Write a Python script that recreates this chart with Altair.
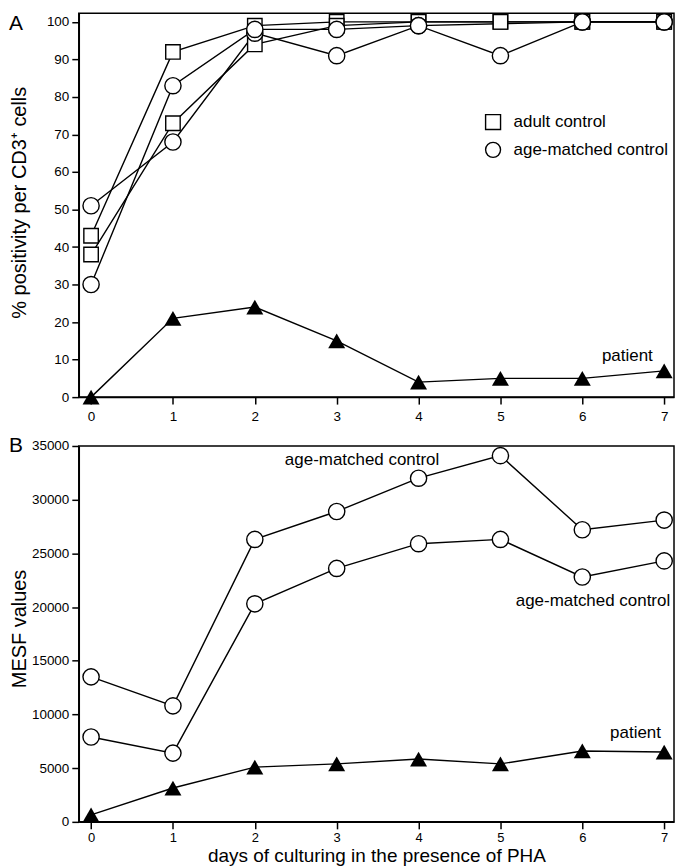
import altair as alt
import pandas as pd

days = [0, 1, 2, 3, 4, 5, 6, 7]

# Panel A: % positivity per CD3+ cells
a_adult_1 = [43, 92, 99, 100, 100, 100, 100, 100]
a_adult_2 = [38, 73, 94, 99, 100, 100, 100, 100]
a_age_1 = [51, 68, 97, 91, 99, 91, 100, 100]
a_age_2 = [30, 83, 98, 98, 99, None, 100, 100]
a_patient = [0, 21, 24, 15, 4, 5, 5, 7]

# Panel B: MESF values
b_age_1 = [13500, 10800, 26300, 28900, 32000, 34100, 27200, 28100]
b_age_2 = [7900, 6400, 20300, 23600, 25900, 26300, 22800, 24300]
b_patient = [650, 3150, 5100, 5400, 5850, 5400, 6600, 6500]

legend_labels = ["adult control", "age-matched control"]
# legend anchor (in data units of panel A)
legend_day = 4.91
legend_text_day = 5.16
legend_vals = [73.3, 65.9]

a_ticks = [0, 10, 20, 30, 40, 50, 60, 70, 80, 90, 100]
b_ticks = [0, 5000, 10000, 15000, 20000, 25000, 30000, 35000]

a_note_text = ["patient"]
a_note_day = [6.55]
a_note_val = [11]

b_note_text = ["age-matched control", "age-matched control", "patient"]
b_note_day = [3.31, 6.13, 6.65]
b_note_val = [33650, 20560, 8310]

FONT = "Liberation Sans"


def long(series, groups):
    rows = []
    for name, vals in series.items():
        for d, v in zip(days, vals):
            if v is not None:
                rows.append({"series": name, "group": groups[name], "day": d, "value": v})
    return pd.DataFrame(rows)


a_series = {"adult1": a_adult_1, "adult2": a_adult_2, "age1": a_age_1, "age2": a_age_2, "patient": a_patient}
a_groups = {"adult1": "adult control", "adult2": "adult control", "age1": "age-matched control",
            "age2": "age-matched control", "patient": "patient"}
df_a = long(a_series, a_groups)
df_a_adult = df_a[df_a["group"] == "adult control"]
df_a_age = df_a[df_a["group"] == "age-matched control"]
df_a_pat = df_a[df_a["group"] == "patient"]

b_series = {"age1": b_age_1, "age2": b_age_2, "patient": b_patient}
b_groups = {"age1": "age-matched control", "age2": "age-matched control", "patient": "patient"}
df_b = long(b_series, b_groups)
df_b_ctrl = df_b[df_b["group"] != "patient"]
df_b_pat = df_b[df_b["group"] == "patient"]

df_a_notes = pd.DataFrame({"text": a_note_text, "day": a_note_day, "value": a_note_val})
df_b_notes = pd.DataFrame({"text": b_note_text, "day": b_note_day, "value": b_note_val})
df_legend = pd.DataFrame({"group": legend_labels, "value": legend_vals,
                          "day": [legend_day] * 2, "tday": [legend_text_day] * 2})

xscale = alt.Scale(domain=[-0.15, 7.12], nice=False, zero=False)

W = 597
HA = 385
HB = 377
LINE_W = 1.4
MARK_W = 1.4

# ---------------- Panel A ----------------
xaxis_a = alt.Axis(values=days, format="d", title=None, labelPadding=5)
x_a = alt.X("day:Q", scale=xscale, axis=xaxis_a)
y_a = alt.Y("value:Q", scale=alt.Scale(domain=[0, 102.3], nice=False, zero=False),
            axis=alt.Axis(values=a_ticks, format="d", title="% positivity per CD3⁺ cells",
                          titleX=-53, titleY=189.5, titleBaseline="alphabetic"))

shape_a = alt.Shape("group:N", scale=alt.Scale(domain=legend_labels, range=["square", "circle"]),
                    legend=None)

lines_a = alt.Chart(df_a).mark_line(color="black", strokeWidth=LINE_W).encode(
    x=x_a, y=y_a, detail="series:N", order="day:Q")

sq_a = alt.Chart(df_a_adult).mark_point(
    fill="white", stroke="black", strokeWidth=MARK_W, opacity=1, fillOpacity=1, size=210
).encode(x=x_a, y=y_a, shape=shape_a)

ci_a = alt.Chart(df_a_age).mark_point(
    fill="white", stroke="black", strokeWidth=MARK_W, opacity=1, fillOpacity=1, size=265
).encode(x=x_a, y=y_a, shape=shape_a)

pat_a = alt.Chart(df_a_pat).mark_point(
    shape="triangle-up", filled=True, color="black", size=290, opacity=1
).encode(x=x_a, y=y_a)

leg_sym = alt.Chart(df_legend).mark_point(
    fill="white", stroke="black", strokeWidth=MARK_W, opacity=1, fillOpacity=1, size=225
).encode(x=x_a, y=y_a, shape=shape_a)

leg_txt = alt.Chart(df_legend).mark_text(
    font=FONT, fontSize=17, color="black", align="left", baseline="middle"
).encode(x=alt.X("tday:Q", scale=xscale, axis=xaxis_a), y=y_a, text="group:N")

notes_a = alt.Chart(df_a_notes).mark_text(
    font=FONT, fontSize=17, color="black", align="center", baseline="middle"
).encode(x=x_a, y=y_a, text="text:N")

letter_a = alt.Chart(pd.DataFrame({"t": ["A"]})).mark_text(
    font=FONT, fontSize=21, color="black", align="left", baseline="top"
).encode(x=alt.value(-70), y=alt.value(0), text="t:N")

chart_a = alt.layer(lines_a, sq_a, ci_a, pat_a, leg_sym, leg_txt, notes_a, letter_a).properties(
    width=W, height=HA)

# ---------------- Panel B ----------------
x_b = alt.X("day:Q", scale=xscale,
            axis=alt.Axis(values=days, format="d", title="days of culturing in the presence of PHA",
                          labelPadding=3, labelFontSize=13, titleY=40,
                          titleBaseline="alphabetic", titleFontSize=19))
y_b = alt.Y("value:Q", scale=alt.Scale(domain=[0, 35000], nice=False, zero=False),
            axis=alt.Axis(values=b_ticks, format="d", title="MESF values",
                          titleX=-53, titleY=183, titleBaseline="alphabetic"))

lines_b = alt.Chart(df_b).mark_line(color="black", strokeWidth=LINE_W).encode(
    x=x_b, y=y_b, detail="series:N", order="day:Q")

pts_b = alt.Chart(df_b_ctrl).mark_point(
    shape="circle", fill="white", stroke="black", strokeWidth=MARK_W, size=265, opacity=1, fillOpacity=1
).encode(x=x_b, y=y_b)

pat_b = alt.Chart(df_b_pat).mark_point(
    shape="triangle-up", filled=True, color="black", size=290, opacity=1
).encode(x=x_b, y=y_b)

notes_b = alt.Chart(df_b_notes).mark_text(
    font=FONT, fontSize=17, color="black", align="center", baseline="middle"
).encode(x=x_b, y=y_b, text="text:N")

letter_b = alt.Chart(pd.DataFrame({"t": ["B"]})).mark_text(
    font=FONT, fontSize=21, color="black", align="left", baseline="middle"
).encode(x=alt.value(-70), y=alt.value(0.5), text="t:N")

chart_b = alt.layer(lines_b, pts_b, pat_b, notes_b, letter_b).properties(width=W, height=HB)

chart = alt.vconcat(chart_a, chart_b, spacing=49, bounds="flush").properties(
    padding={"left": 0, "top": 0, "right": 1, "bottom": 0}
).configure(font=FONT).configure_view(
    stroke="black", strokeWidth=1.5
).configure_axis(
    grid=False, domainColor="black", domainWidth=1.5, tickColor="black", tickWidth=1.5,
    tickSize=7, labelFont=FONT, labelFontSize=13.5, labelColor="black", labelPadding=3,
    labelFlush=False, labelOverlap=False,
    titleFont=FONT, titleFontSize=20, titleFontWeight="normal", titleColor="black"
)

chart.save("out.html", embed_options={"renderer": "svg", "actions": False})
